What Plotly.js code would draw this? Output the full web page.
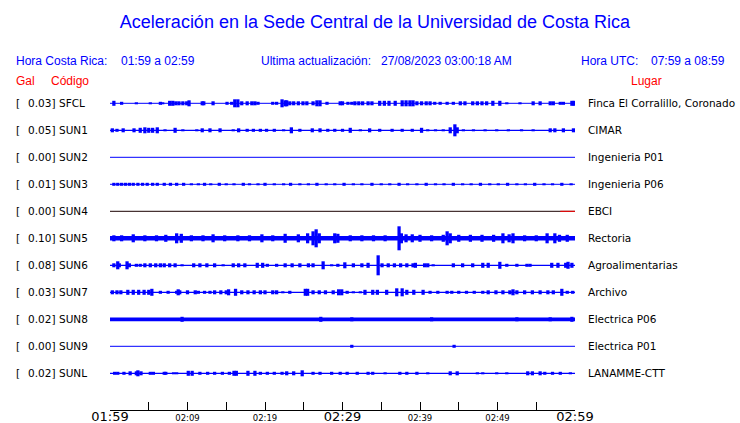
<!DOCTYPE html>
<html>
<head>
<meta charset="utf-8">
<script src="https://cdn.plot.ly/plotly-3.0.1.min.js"></script>
<style>html,body{margin:0;padding:0;background:#fff}#chart{width:740px;height:423px}</style>
</head>
<body>
<div id="chart"></div>
<script>
// ---------- DATA ----------
const codes  = ['SFCL','SUN1','SUN2','SUN3','SUN4','SUN5','SUN6','SUN7','SUN8','SUN9','SUNL'];
const galMax = ['0.03','0.05','0.00','0.01','0.00','0.10','0.08','0.03','0.02','0.00','0.02'];
const places = ['Finca El Corralillo, Coronado','CIMAR','Ingenieria P01','Ingenieria P06','EBCI',
                'Rectoria','Agroalimentarias','Archivo','Electrica P06','Electrica P01','LANAMME-CTT'];
const tickMinutes = [0,5,10,15,20,25,30,35,40,45,50,55,60];
const tickLabels  = ['01:59','','02:09','','02:19','','02:29','','02:39','','02:49','','02:59'];
const majorTicks  = ['01:59','02:29','02:59'];

// burst times (minutes after 01:59) and half-amplitudes (relative units) per station
const sfclT = [0.5,1.5,3.4,5.2,6.5,6.8,7.7,8.1,8.5,8.9,9.4,9.9,10.2,11.9,12.1,13.3,15.1,15.7,16.1,16.5,17.0,17.7,18.3,18.7,19.1,21.0,21.5,22.2,22.6,22.8,23.2,23.7,24.3,24.9,25.4,26.2,26.7,27.1,28.0,29.7,30.0,30.7,31.2,31.6,32.1,32.6,33.3,33.8,34.8,35.4,36.0,36.8,37.7,38.2,38.7,39.1,39.6,40.2,40.8,41.3,41.9,42.6,43.5,44.3,45.2,45.8,46.8,47.4,48.0,48.6,49.4,50.3,51.2,52.9,54.6,55.5,56.8,57.2,58.1,58.5,59.6,59.9];
const sfclA = [2.5,1.5,1,1,1.5,1,2.5,2.5,2,2,2,2,3,2,2,2,1.5,1.5,4,4,2,2,2,2,1.5,1.5,1.5,4,3,3,2,2,2,2,2,2,3,3,1.5,2,2,1.5,1.5,2,2,2,2,2,2.5,2.5,2.5,2.5,3,3,3,3,2,2,2,2,1.5,1.5,1.5,1.5,2,2,2,2,2,2,2.5,2.5,1,1,2,2,2,2,1.5,1.5,2.5,2.5];
const sun1T = [0.3,0.9,1.7,3.1,3.9,4.5,5.0,5.5,6.1,7.1,8.4,9.4,11.2,11.9,12.9,14.2,15.9,16.6,17.7,18.5,19.4,20.2,21.2,22.4,23.4,24.5,26.1,27.1,28.1,29.0,30.0,31.0,32.3,33.5,34.8,36.4,37.7,39.0,40.2,41.0,42.0,43.0,43.9,44.5,44.8,45.6,46.9,48.4,49.9,51.4,53.1,54.6,56.8,57.4,58.5,59.8];
const sun1A = [2,1.5,2,2,2.5,3,2.5,2.5,3,1,2.5,1,1,2,2,2,1,2,1.5,1.5,1.5,1.5,1.5,1,3,1.5,2,2,1.5,1.5,1.5,2.5,1,2,1.5,1.5,1.5,1.5,2.5,1,1,1,3,6,3,1,1,1,1,1,1,1,2,2,2,2];
const sun2T = [];
const sun2A = [];
const sun3T = [0.5,1.0,1.5,2.0,2.5,3.0,3.6,4.2,4.8,5.5,6.1,7.0,7.8,8.6,9.5,10.5,11.4,12.2,13.0,14.1,15.0,16.0,17.2,18.0,19.1,20.0,21.2,22.4,23.3,24.5,25.6,26.7,27.9,29.0,30.2,31.4,32.5,33.8,35.0,36.1,37.3,38.4,39.6,40.8,42.0,43.1,44.3,45.5,46.6,47.8,49.0,50.1,51.3,52.5,53.6,54.8,56.0,57.1,58.3,59.5];
const sun3A = [1.5,1.5,1.5,1.5,1.5,1.5,1.5,1.5,1.5,1.5,1.5,1.5,1.5,1.5,1.5,1,1,1.5,1,1.5,1,1,1.5,1,1,1.5,1,1,1.5,1,1,1.5,1,1,1.5,1,1,1.5,1,1,1.5,1,1,1.5,1,1,1.5,1,1,1.5,1,1,1.5,1,1,1.5,1,1,1.5,1];
const sun4T = [];
const sun4A = [];
const sun5T = [0.5,1.5,3.0,4.5,6.0,7.2,8.6,9.2,10.5,12.0,13.3,14.8,16.5,18.0,19.6,21.0,22.6,24.3,25.5,26.2,26.6,27.0,29.0,29.4,31.0,32.5,34.0,35.5,37.3,37.6,38.2,39.0,40.0,41.5,43.0,43.5,43.9,45.0,46.5,48.0,49.5,50.7,51.5,52.0,53.5,55.0,56.4,57.4,58.0,59.0];
const sun5A = [3,3,4,3,3,3.5,5,4.5,3,3,4,3,3,3,4,3,4.5,4,5,7,9,5,5,4.5,3,3,3,3,12,5,4,4,3.5,3,3.5,7,5,3.5,3.5,3.5,3.5,5,4,5,3,3,5,5,3.5,3.5];
const sun6T = [0.5,1.0,1.2,2.2,2.5,3.4,3.9,4.5,5.2,5.9,6.5,7.0,7.7,8.4,9.3,10.8,11.6,12.5,13.5,14.6,15.9,16.6,17.4,19.0,19.7,20.3,21.5,22.6,23.5,24.5,25.6,26.2,27.5,28.6,29.4,30.3,31.4,32.5,33.3,34.6,35.1,35.9,36.7,37.5,38.3,39.1,39.4,40.6,41.0,41.7,44.3,45.5,46.8,48.1,48.8,50.3,51.2,52.5,53.8,54.2,57.0,57.8,58.8,59.1,59.6];
const sun6A = [2,4,2,4,2,1.5,1.5,2,2,2,2,2,2,2,1,2,2,2,2,1,2,2,2,2.5,2.5,1.5,1.5,2,2,2,2,2,4,1,1.5,3,2,2,2.5,10,2,2,2,2,2,2,2.5,2,2,1,2,2,2,2.5,2.5,3.5,1.5,1.5,1.5,1.5,2.5,2.5,2.5,3.5,2.5];
const sun7T = [0.3,0.9,1.4,2.3,3.0,3.7,4.4,5.0,5.4,6.5,7.5,8.6,8.8,9.0,10.0,11.0,11.4,12.2,12.9,13.5,14.3,15.0,15.3,16.2,17.0,17.8,18.6,19.4,20.0,21.0,21.5,22.3,23.2,25.2,25.5,26.2,27.0,27.8,28.8,29.5,29.9,30.6,31.4,32.3,32.9,33.9,34.5,35.7,37.0,37.7,38.3,39.2,40.4,41.3,42.3,43.5,44.1,45.0,46.0,47.0,48.1,48.8,49.8,50.7,51.6,52.0,52.5,53.5,54.5,55.5,56.5,57.2,58.3,59.0,59.7];
const sun7A = [2,2,2,2.5,2.5,2.5,2.5,2.5,3.5,1.5,1.5,1.5,3,2,2,2,1.5,1.5,1.5,2,2,2,3,3.5,2,2,2,2,2,2,2,1,1.5,3.5,3.5,2,2,2,2,3,3,1.5,1,1,2.5,2.5,2.5,2.5,4,4,2.5,2.5,2.5,1.5,1.5,1.5,1.5,1.5,1.5,1.5,1.5,2,2,2,2,3,2,2,2,2,2,2,3.5,1.5,1.5];
const sun8T = [9.3,27.2,31.2,41.5,52.5,56.8,59.6];
const sun8A = [2.5,2.5,2,2,2,2,2.5];
const sun9T = [31.2,44.4];
const sun9A = [1.5,1.5];
const sunlT = [0.6,1.0,1.8,2.6,3.4,3.6,4.0,5.2,5.6,7.0,7.2,8.2,8.6,10.1,10.6,11.6,12.6,13.5,14.5,15.4,16.0,16.3,17.8,18.7,19.4,20.3,21.2,22.2,22.8,23.7,24.8,26.2,27.1,28.6,29.7,30.6,31.9,33.3,33.9,35.5,37.4,38.3,39.6,41.0,43.9,44.8,47.4,48.1,49.9,51.2,53.9,54.5,55.5,56.1,57.1,58.1,59.4];
const sunlA = [1.5,1.5,1.5,2,2,3,2,1.5,1.5,1.5,1.5,1,1,2.5,2.5,1.5,1.5,1.5,1.5,1.5,2.5,2.5,2.5,2.5,1.5,1.5,1.5,1.5,2,2,3,1.5,1.5,1.5,1.5,1.5,1.5,1.5,1.5,1,1.5,1.5,1.5,1,2,2,1,1,1,1,2,2,2,1.5,1.5,1.5,1];

const burstTimes = [sfclT,sun1T,sun2T,sun3T,sun4T,sun5T,sun6T,sun7T,sun8T,sun9T,sunlT];
const burstAmps  = [sfclA,sun1A,sun2A,sun3A,sun4A,sun5A,sun6A,sun7A,sun8A,sun9A,sunlA];
// SUN4 trace: dark line, last segment drawn in red
const sun4RedFrom = 58.1;

// ---------- STYLE / LAYOUT ----------
const W = 740, H = 423;
const L = 110, R = 575;                 // plot x extent in px
const ROW0 = 103.3, ROWSTEP = 27;       // first row centre, row spacing (px)
const AMP_SCALE = 1 / ROWSTEP;          // amplitude unit -> row units
const BLUE = '#0000ff', RED = '#ff0000';
const baseWidths = [1,1.2,1,1,1,4.5,1.3,1.3,3.8,1,1.2];
const baseColors = [BLUE,BLUE,BLUE,BLUE,'#1a0000',BLUE,BLUE,BLUE,BLUE,BLUE,BLUE];

const px2paperX = px => (px - L) / (R - L);
const py2paperY = py => 1 - py / H;

const traces = [];
codes.forEach((c, k) => {
  traces.push({
    type: 'scatter', mode: 'lines', x: [0, 60], y: [k, k],
    line: {color: baseColors[k], width: baseWidths[k]}, hoverinfo: 'skip', showlegend: false
  });
  if (c === 'SUN4') {
    traces.push({
      type: 'scatter', mode: 'lines', x: [sun4RedFrom, 60], y: [k, k],
      line: {color: RED, width: 1}, hoverinfo: 'skip', showlegend: false
    });
  }
  const T = burstTimes[k], A = burstAmps[k];
  if (T.length) {
    traces.push({
      type: 'bar', x: T,
      base: A.map(a => k - a * AMP_SCALE),
      y: A.map(a => 2 * a * AMP_SCALE),
      width: 0.42,
      marker: {color: BLUE, line: {width: 0}},
      hoverinfo: 'skip', showlegend: false
    });
  }
});

const annotations = [];
const txt = (text, px, py, opts) => Object.assign({
  text, x: px2paperX(px), xref: 'paper', y: py2paperY(py), yref: 'paper',
  xanchor: 'left', yanchor: 'middle', showarrow: false, borderpad: 0,
  font: {family: 'Liberation Sans, Arial, sans-serif', size: 12, color: BLUE}
}, opts || {});

annotations.push(txt('Hora Costa Rica:', 15, 60.7));
annotations.push(txt('01:59 a 02:59', 120, 60.7));
annotations.push(txt('Ultima actualización:', 260, 60.7));
annotations.push(txt('27/08/2023 03:00:18 AM', 380, 60.7));
annotations.push(txt('Hora UTC:', 580, 60.7));
annotations.push(txt('07:59 a 08:59', 650, 60.7));
const redFont = {family: 'Liberation Sans, Arial, sans-serif', size: 12, color: RED};
annotations.push(txt('Gal', 15, 80.7, {font: redFont}));
annotations.push(txt('Código', 50, 80.7, {font: redFont}));
annotations.push(txt('Lugar', 630, 80.7, {font: redFont}));

const lblFont = {family: 'DejaVu Sans, sans-serif', size: 10.5, color: '#000'};
codes.forEach((c, k) => {
  const py = ROW0 + ROWSTEP * k;
  annotations.push(txt('[', 14.5, py, {font: lblFont}));
  annotations.push(txt(galMax[k] + ']', 27, py, {font: lblFont}));
  annotations.push(txt(c, 58, py, {font: lblFont}));
  annotations.push(txt(places[k], 587, py, {font: lblFont}));
});

const tickText = tickLabels.map(t => majorTicks.includes(t) ? '<span style="font-size:13px">' + t + '</span>' : t);

const layout = {
  width: W, height: H,
  margin: {l: L, r: W - R, t: 0, b: 0, pad: 0},
  paper_bgcolor: '#fff', plot_bgcolor: 'rgba(0,0,0,0)',
  showlegend: false, barmode: 'overlay',
  title: {
    text: 'Aceleración en la Sede Central de la Universidad de Costa Rica',
    font: {family: 'Liberation Sans, Arial, sans-serif', size: 18, color: BLUE},
    xref: 'container', yref: 'container', x: 375 / W, xanchor: 'center',
    y: 1 - 22 / H, yanchor: 'middle'
  },
  xaxis: {
    range: [0, 60], anchor: 'free', position: 1 - 409.5 / H,
    showline: true, linecolor: '#000', linewidth: 1, mirror: false,
    ticks: 'inside', ticklen: 8, tickwidth: 1, tickcolor: '#000',
    tickmode: 'array', tickvals: tickMinutes, ticktext: tickText,
    tickfont: {family: 'DejaVu Sans, sans-serif', size: 8.5, color: '#000'},
    showgrid: false, zeroline: false, fixedrange: true
  },
  yaxis: {
    range: [(H - ROW0) / ROWSTEP, -ROW0 / ROWSTEP],
    visible: false, showgrid: false, zeroline: false, fixedrange: true
  },
  annotations
};

Plotly.newPlot('chart', traces, layout, {staticPlot: true, displayModeBar: false});
</script>
</body>
</html>
